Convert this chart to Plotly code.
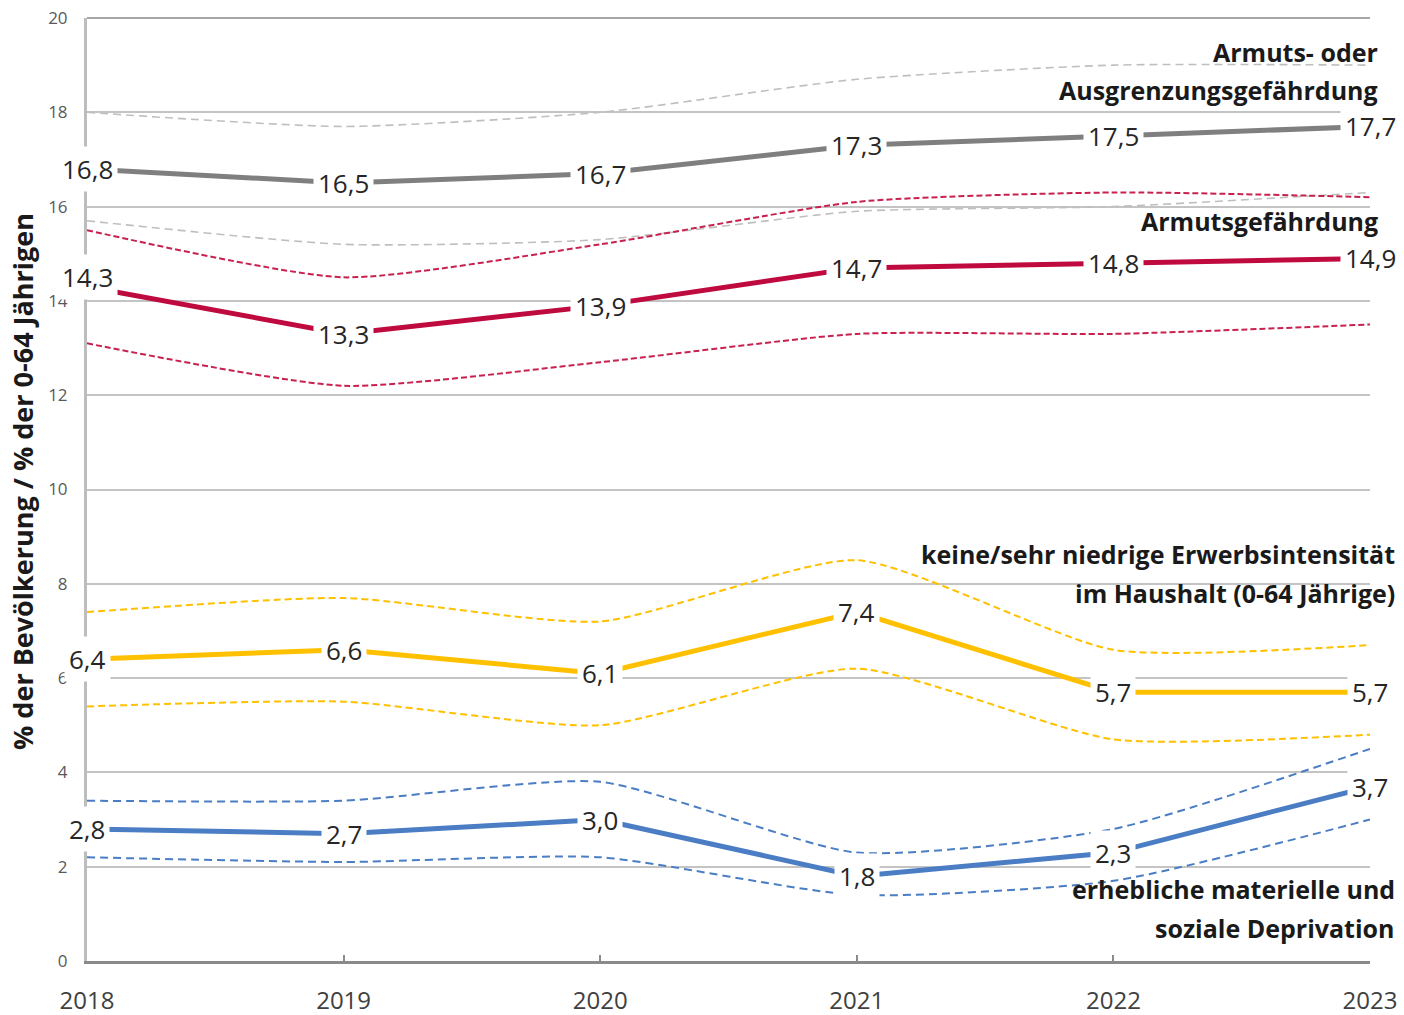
import plotly.graph_objects as go

years = [2018, 2019, 2020, 2021, 2022, 2023]

# Armuts- oder Ausgrenzungsgefährdung
arope = [16.8, 16.5, 16.7, 17.3, 17.5, 17.7]
arope_hi = [18.0, 17.7, 18.0, 18.7, 19.0, 19.0]
arope_lo = [15.7, 15.2, 15.3, 15.9, 16.0, 16.3]

# Armutsgefährdung
arop = [14.3, 13.3, 13.9, 14.7, 14.8, 14.9]
arop_hi = [15.5, 14.5, 15.2, 16.1, 16.3, 16.2]
arop_lo = [13.1, 12.2, 12.7, 13.3, 13.3, 13.5]

# keine/sehr niedrige Erwerbsintensität
lwi = [6.4, 6.6, 6.1, 7.4, 5.7, 5.7]
lwi_hi = [7.4, 7.7, 7.2, 8.5, 6.6, 6.7]
lwi_lo = [5.4, 5.5, 5.0, 6.2, 4.7, 4.8]

# erhebliche materielle und soziale Deprivation
smsd = [2.8, 2.7, 3.0, 1.8, 2.3, 3.7]
smsd_hi = [3.4, 3.4, 3.8, 2.3, 2.8, 4.5]
smsd_lo = [2.2, 2.1, 2.2, 1.4, 1.7, 3.0]

y_ticks = [0, 2, 4, 6, 8, 10, 12, 14, 16, 18, 20]

FONT = "Open Sans"
GRID = "#C4C4C4"
series = [
    (arope, arope_hi, arope_lo, "#7F7F7F", "#BFBFBF", 1.6, "8px,5px"),
    (arop, arop_hi, arop_lo, "#BE0A3E", "#C8214F", 2, "6px,3px"),
    (lwi, lwi_hi, lwi_lo, "#FFC000", "#FFC000", 2, "7px,4px"),
    (smsd, smsd_hi, smsd_lo, "#4A7DC4", "#4A7DC4", 2, "8px,5px"),
]

fig = go.Figure()
for main, hi, lo, col, dcol, dw, dash in series:
    for band in (hi, lo):
        fig.add_trace(go.Scatter(
            x=years, y=band, mode="lines",
            line=dict(color=dcol, width=dw, dash=dash, shape="spline", smoothing=0.6),
            hoverinfo="skip", showlegend=False))
for main, hi, lo, col, dcol, dw, dash in series:
    fig.add_trace(go.Scatter(
        x=years, y=main, mode="lines",
        line=dict(color=col, width=5),
        hoverinfo="skip", showlegend=False))

annotations = []
label_shift = {(1, 0): 10}
for si, (main, hi, lo, col, dcol, dw, dash) in enumerate(series):
    for i, (x, v) in enumerate(zip(years, main)):
        annotations.append(dict(
            x=x, y=v, xref="x", yref="y",
            text=f"{v:.1f}".replace(".", ","),
            showarrow=False, xanchor="center", yanchor="middle",
            yshift=label_shift.get((si, i), 0),
            font=dict(family=FONT, size=26, color="#262626"),
            bgcolor="white", borderpad=4))

W, H = 1404, 1015
L, R, T, B = 87, 34, 18, 54
pw = W - L - R
ph = H - T - B

def px_x(page_x):
    return (page_x - L) / pw

def px_y(page_y):
    return 1 - (page_y - T) / ph

names = [
    ("Armuts- oder", 1380, 19.28),
    ("Ausgrenzungsgefährdung", 1380, 18.47),
    ("Armutsgefährdung", 1380, 15.69),
    ("keine/sehr niedrige Erwerbsintensität", 1397, 8.63),
    ("im Haushalt (0-64 Jährige)", 1397, 7.80),
    ("erhebliche materielle und", 1397, 1.53),
    ("soziale Deprivation", 1397, 0.70),
]
for txt, xr, yv in names:
    annotations.append(dict(
        x=px_x(xr), y=yv, xref="paper", yref="y", text=f"<b>{txt}</b>",
        showarrow=False, xanchor="right", yanchor="middle",
        font=dict(family=FONT, size=25, color="#1a1a1a")))

# y-axis title
annotations.append(dict(
    x=px_x(22), y=px_y(482), xref="paper", yref="paper",
    text="<b>% der Bevölkerung / % der 0-64 Jährigen</b>", textangle=-90,
    showarrow=False, xanchor="center", yanchor="middle",
    font=dict(family=FONT, size=27, color="#1a1a1a")))

fig.update_layout(
    width=W, height=H,
    margin=dict(l=L, r=R, t=T, b=B),
    paper_bgcolor="white", plot_bgcolor="white",
    annotations=annotations,
    shapes=[dict(type="line", xref="paper", x0=0, x1=1, yref="paper",
                 y0=1, y1=1, layer="above",
                 line=dict(color="#A6A6A6", width=2))],
    showlegend=False,
    xaxis=dict(
        range=[2018, 2023], tickvals=years, ticktext=[str(y) for y in years],
        showgrid=False, zeroline=False, automargin=False,
        showline=True, linecolor="#8A8A8A", linewidth=3,
        ticks="inside", ticklen=6, tickwidth=2, tickcolor="#8A8A8A",
        tickfont=dict(family=FONT, size=24, color="#404040"),
        ticklabelstandoff=16, ticklabeloverflow="allow"),
    yaxis=dict(
        range=[0, 20], tickvals=y_ticks, ticktext=[str(t) for t in y_ticks],
        showgrid=True, gridcolor=GRID, gridwidth=1.5, zeroline=False,
        automargin=False,
        showline=True, linecolor="#BDBDBD", linewidth=3,
        ticks="", tickfont=dict(family=FONT, size=17, color="#595959"),
        ticklabelstandoff=13, ticklabeloverflow="allow"),
)

fig.write_html("out.html", config={"displayModeBar": False},
               post_script="document.body.style.margin='0';")
